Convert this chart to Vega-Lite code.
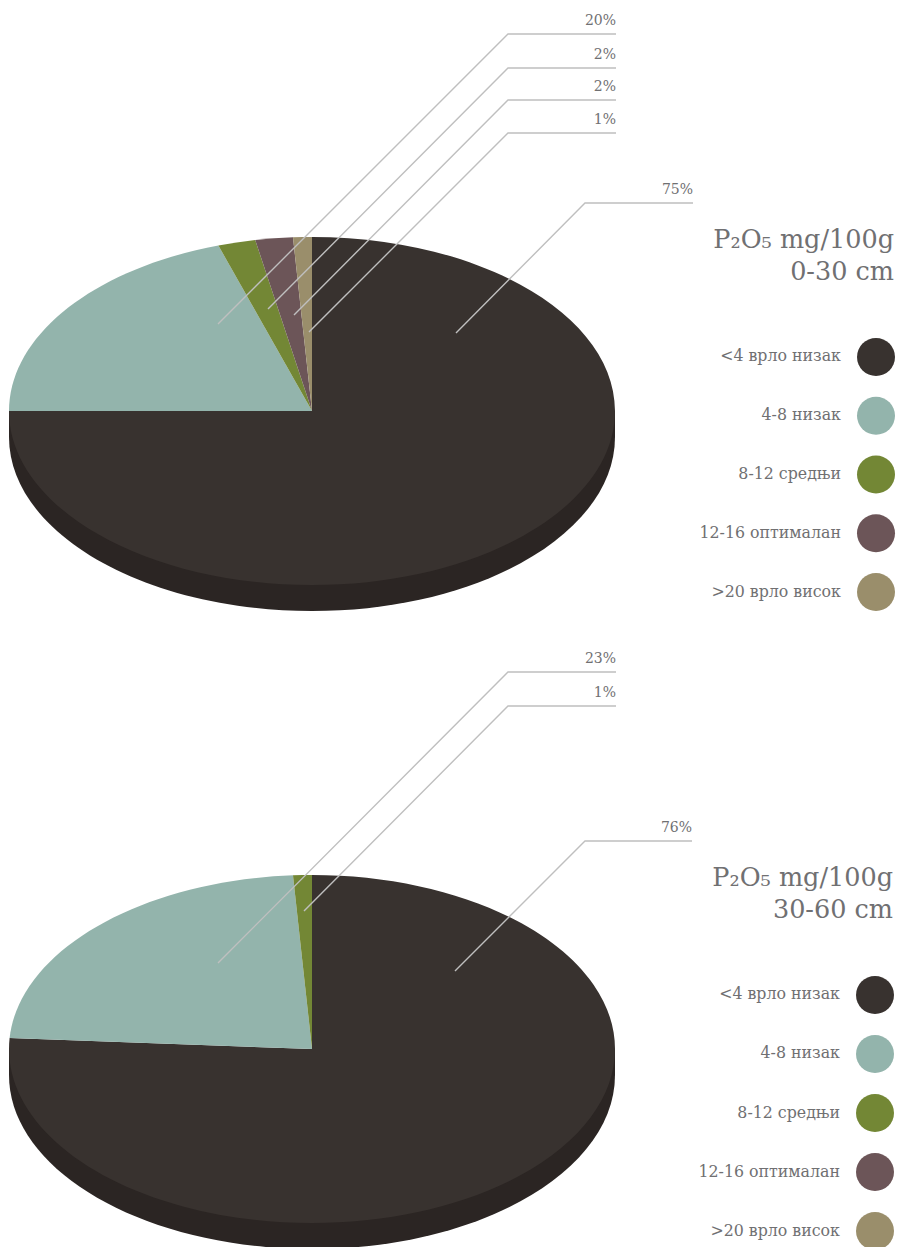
{
  "$schema": "https://vega.github.io/schema/vega-lite/v6.json",
  "width": 900,
  "height": 1247,
  "padding": 0,
  "autosize": {"type": "none"},
  "background": "#ffffff",
  "config": {"view": {"stroke": null}, "axis": {"disable": true}, "legend": {"disable": true}},
  "datasets": {
    "slices": [
      {"depth": "0-30 cm", "class": "<4 врло низак", "share": 0.75},
      {"depth": "0-30 cm", "class": "4-8 низак", "share": 0.20},
      {"depth": "0-30 cm", "class": "8-12 средњи", "share": 0.02},
      {"depth": "0-30 cm", "class": "12-16 оптималан", "share": 0.02},
      {"depth": "0-30 cm", "class": ">20 врло висок", "share": 0.01},
      {"depth": "30-60 cm", "class": "<4 врло низак", "share": 0.76},
      {"depth": "30-60 cm", "class": "4-8 низак", "share": 0.23},
      {"depth": "30-60 cm", "class": "8-12 средњи", "share": 0.01}
    ],
    "leaders": [
      {"id": "a75", "share": 0.75, "step": 0, "x": 456, "y": 333},
      {"id": "a75", "share": 0.75, "step": 1, "x": 585, "y": 203},
      {"id": "a75", "share": 0.75, "step": 2, "x": 693, "y": 203},
      {"id": "a20", "share": 0.20, "step": 0, "x": 218, "y": 324},
      {"id": "a20", "share": 0.20, "step": 1, "x": 508, "y": 34},
      {"id": "a20", "share": 0.20, "step": 2, "x": 616, "y": 34},
      {"id": "a2g", "share": 0.02, "step": 0, "x": 268, "y": 309},
      {"id": "a2g", "share": 0.02, "step": 1, "x": 508, "y": 68},
      {"id": "a2g", "share": 0.02, "step": 2, "x": 616, "y": 68},
      {"id": "a2b", "share": 0.02, "step": 0, "x": 294, "y": 315},
      {"id": "a2b", "share": 0.02, "step": 1, "x": 508, "y": 100},
      {"id": "a2b", "share": 0.02, "step": 2, "x": 616, "y": 100},
      {"id": "a1", "share": 0.01, "step": 0, "x": 309, "y": 332},
      {"id": "a1", "share": 0.01, "step": 1, "x": 508, "y": 133},
      {"id": "a1", "share": 0.01, "step": 2, "x": 616, "y": 133},
      {"id": "b76", "share": 0.76, "step": 0, "x": 455, "y": 971},
      {"id": "b76", "share": 0.76, "step": 1, "x": 585, "y": 841},
      {"id": "b76", "share": 0.76, "step": 2, "x": 692, "y": 841},
      {"id": "b23", "share": 0.23, "step": 0, "x": 218, "y": 963},
      {"id": "b23", "share": 0.23, "step": 1, "x": 508, "y": 672},
      {"id": "b23", "share": 0.23, "step": 2, "x": 616, "y": 672},
      {"id": "b1", "share": 0.01, "step": 0, "x": 304, "y": 911},
      {"id": "b1", "share": 0.01, "step": 1, "x": 508, "y": 706},
      {"id": "b1", "share": 0.01, "step": 2, "x": 616, "y": 706}
    ],
    "classes": [
      {"class": "<4 врло низак"},
      {"class": "4-8 низак"},
      {"class": "8-12 средњи"},
      {"class": "12-16 оптималан"},
      {"class": ">20 врло висок"}
    ],
    "headings": [
      {"text": "P₂O₅ mg/100g", "x": 894, "y": 248},
      {"text": "0-30 cm", "x": 894, "y": 280},
      {"text": "P₂O₅ mg/100g", "x": 893, "y": 886},
      {"text": "30-60 cm", "x": 893, "y": 918}
    ]
  },
  "resolve": {"scale": {"y": "independent", "shape": "independent"}},
  "layer": [
    {
      "description": "Rim of the upper pie",
      "data": {"values": [{"depth": "0-30 cm"}]},
      "mark": {"type": "point", "filled": true, "opacity": 1, "color": "#2b2523", "size": 367236,
        "shape": "M-1,0 L-1,0.0858 A1,0.5743 0 0 0 1,0.0858 L1,0 Z"},
      "encoding": {
        "x": {"datum": 312, "type": "quantitative", "scale": {"domain": [0, 900], "range": [0, 900]}},
        "y": {"datum": 411, "type": "quantitative", "scale": {"domain": [0, 1247], "range": [0, 1247]}}
      }
    },
    {
      "description": "Upper pie: tilted wedges, one per class",
      "data": {"name": "slices"},
      "transform": [{"filter": "datum.depth === '0-30 cm'"}],
      "mark": {"type": "point", "filled": true, "opacity": 1, "size": 367236},
      "encoding": {
        "x": {"datum": 312, "type": "quantitative"},
        "y": {"datum": 411, "type": "quantitative", "scale": {"domain": [0, 1247], "range": [0, 1247]}},
        "shape": {"field": "class", "type": "nominal", "scale": {
          "domain": ["<4 врло низак", "4-8 низак", "8-12 средњи", "12-16 оптималан", ">20 врло висок"],
          "range": [
            "M0,0 L0,-0.5743 A1,0.5743 0 1 1 -1,0 Z",
            "M0,0 L-1,0 A1,0.5743 0 0 1 -0.309,-0.5462 Z",
            "M0,0 L-0.309,-0.5462 A1,0.5743 0 0 1 -0.1874,-0.5641 Z",
            "M0,0 L-0.1874,-0.5641 A1,0.5743 0 0 1 -0.0628,-0.5732 Z",
            "M0,0 L-0.0628,-0.5732 A1,0.5743 0 0 1 0,-0.5743 Z"
          ]}},
        "color": {"field": "class", "type": "nominal", "scale": {
          "domain": ["<4 врло низак", "4-8 низак", "8-12 средњи", "12-16 оптималан", ">20 врло висок"],
          "range": ["#38322f", "#93b4ac", "#738735", "#6c5558", "#9a8e6b"]}}
      }
    },
    {
      "description": "Rim of the lower pie",
      "data": {"values": [{"depth": "30-60 cm"}]},
      "mark": {"type": "point", "filled": true, "opacity": 1, "color": "#2b2523", "size": 367236,
        "shape": "M-1,0 L-1,0.0858 A1,0.5743 0 0 0 1,0.0858 L1,0 Z"},
      "encoding": {
        "x": {"datum": 312, "type": "quantitative"},
        "y": {"datum": 1049, "type": "quantitative", "scale": {"domain": [0, 1247], "range": [0, 1247]}}
      }
    },
    {
      "description": "Lower pie: tilted wedges, one per class",
      "data": {"name": "slices"},
      "transform": [{"filter": "datum.depth === '30-60 cm'"}],
      "mark": {"type": "point", "filled": true, "opacity": 1, "size": 367236},
      "encoding": {
        "x": {"datum": 312, "type": "quantitative"},
        "y": {"datum": 1049, "type": "quantitative", "scale": {"domain": [0, 1247], "range": [0, 1247]}},
        "shape": {"field": "class", "type": "nominal", "scale": {
          "domain": ["<4 врло низак", "4-8 низак", "8-12 средњи"],
          "range": [
            "M0,0 L0,-0.5743 A1,0.5743 0 1 1 -0.998,-0.0361 Z",
            "M0,0 L-0.998,-0.0361 A1,0.5743 0 0 1 -0.0628,-0.5732 Z",
            "M0,0 L-0.0628,-0.5732 A1,0.5743 0 0 1 0,-0.5743 Z"
          ]}},
        "color": {"field": "class", "type": "nominal"}
      }
    },
    {
      "description": "Leader lines from wedge to percentage",
      "data": {"name": "leaders"},
      "mark": {"type": "line", "color": "#bfbfbf", "strokeWidth": 1.4, "interpolate": "linear"},
      "encoding": {
        "x": {"field": "x", "type": "quantitative"},
        "y": {"field": "y", "type": "quantitative", "scale": {"domain": [0, 1247], "range": [0, 1247]}},
        "detail": {"field": "id"},
        "order": {"field": "step"}
      }
    },
    {
      "description": "Percentages above the leader ends",
      "data": {"name": "leaders"},
      "transform": [{"filter": "datum.step === 2"}],
      "mark": {"type": "text", "align": "right", "baseline": "alphabetic", "dy": -9, "font": "DejaVu Serif", "fontSize": 14, "color": "#707072"},
      "encoding": {
        "x": {"field": "x", "type": "quantitative"},
        "y": {"field": "y", "type": "quantitative", "scale": {"domain": [0, 1247], "range": [0, 1247]}},
        "text": {"field": "share", "type": "quantitative", "format": ".0%"}
      }
    },
    {
      "description": "Panel headings",
      "data": {"name": "headings"},
      "mark": {"type": "text", "align": "right", "baseline": "alphabetic", "font": "DejaVu Serif", "fontSize": 25.5, "color": "#707072"},
      "encoding": {
        "x": {"field": "x", "type": "quantitative"},
        "y": {"field": "y", "type": "quantitative", "scale": {"domain": [0, 1247], "range": [0, 1247]}},
        "text": {"field": "text", "type": "nominal"}
      }
    },
    {
      "description": "Key dots, upper panel",
      "data": {"name": "classes"},
      "mark": {"type": "point", "filled": true, "opacity": 1, "shape": "circle", "size": 1444},
      "encoding": {
        "x": {"datum": 876, "type": "quantitative"},
        "y": {"field": "class", "type": "nominal", "sort": null, "scale": {
          "domain": ["<4 врло низак", "4-8 низак", "8-12 средњи", "12-16 оптималан", ">20 врло висок"],
          "type": "point", "padding": 0, "range": [357, 592]}},
        "color": {"field": "class", "type": "nominal"}
      }
    },
    {
      "description": "Key labels, upper panel",
      "data": {"name": "classes"},
      "mark": {"type": "text", "align": "right", "baseline": "middle", "font": "DejaVu Serif", "fontSize": 15.8, "color": "#707072"},
      "encoding": {
        "x": {"datum": 841, "type": "quantitative"},
        "y": {"field": "class", "type": "nominal", "sort": null, "scale": {
          "domain": ["<4 врло низак", "4-8 низак", "8-12 средњи", "12-16 оптималан", ">20 врло висок"],
          "type": "point", "padding": 0, "range": [356, 592]}},
        "text": {"field": "class", "type": "nominal"}
      }
    },
    {
      "description": "Key dots, lower panel",
      "data": {"name": "classes"},
      "mark": {"type": "point", "filled": true, "opacity": 1, "shape": "circle", "size": 1444},
      "encoding": {
        "x": {"datum": 875, "type": "quantitative"},
        "y": {"field": "class", "type": "nominal", "sort": null, "scale": {
          "domain": ["<4 врло низак", "4-8 низак", "8-12 средњи", "12-16 оптималан", ">20 врло висок"],
          "type": "point", "padding": 0, "range": [995, 1231]}},
        "color": {"field": "class", "type": "nominal"}
      }
    },
    {
      "description": "Key labels, lower panel",
      "data": {"name": "classes"},
      "mark": {"type": "text", "align": "right", "baseline": "middle", "font": "DejaVu Serif", "fontSize": 15.8, "color": "#707072"},
      "encoding": {
        "x": {"datum": 840, "type": "quantitative"},
        "y": {"field": "class", "type": "nominal", "sort": null, "scale": {
          "domain": ["<4 врло низак", "4-8 низак", "8-12 средњи", "12-16 оптималан", ">20 врло висок"],
          "type": "point", "padding": 0, "range": [994, 1231]}},
        "text": {"field": "class", "type": "nominal"}
      }
    }
  ]
}
